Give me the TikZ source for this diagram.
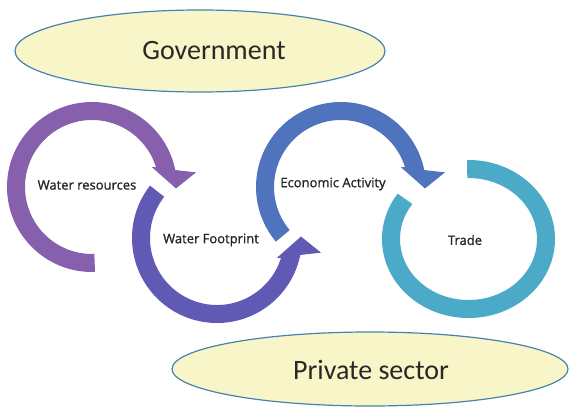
\documentclass[tikz,border=0pt]{standalone}
\usepackage{fontspec}
\setmainfont{Carlito}
\newfontfamily\labelfont[FakeBold=1]{Open Sans}
\usetikzlibrary{shapes.geometric}
\definecolor{arcA}{RGB}{134,96,172}
\definecolor{arcB}{RGB}{96,90,180}
\definecolor{arcC}{RGB}{80,115,190}
\definecolor{arcD}{RGB}{75,170,200}
\definecolor{ellfill}{RGB}{248,246,200}
\definecolor{elldraw}{RGB}{70,130,175}
\definecolor{txt}{RGB}{40,40,40}
\definecolor{smalltxt}{RGB}{35,35,35}
\begin{document}
\begin{tikzpicture}[x=1pt,y=1pt,
  bigoval/.style={ellipse, draw=elldraw, fill=ellfill, line width=1.2pt, inner sep=0pt},
  bigtext/.style={font=\fontsize{28}{32}\selectfont, text=txt, inner sep=0pt},
  smalltext/.style={font=\labelfont\fontsize{13}{15}\selectfont, text=smalltxt, inner sep=0pt}
]
\useasboundingbox (0,0) rectangle (570,408);

% top ellipse
\node[bigoval, minimum width=370pt, minimum height=82pt] (gov) at (200,357) {};
\node[bigtext] (govtext) at (214,357) {Government};

% bottom ellipse
\node[bigoval, minimum width=396pt, minimum height=74pt] (priv) at (370,39) {};
\node[bigtext] (privtext) at (371,38) {Private sector};

% arc 1: Water resources
\begin{scope}[shift={(92,221)}]
\fill[arcA] (272:85) arc[start angle=272, end angle=11.5, radius=85]
  -- (8:105) -- (-1:84) -- (18.5:63) -- (17.2:67)
  arc[start angle=17.2, end angle=272, radius=67] -- cycle;
\end{scope}

% arc 2: Water Footprint
\begin{scope}[shift={(217,170)}]
\fill[arcB] (142:85) arc[start angle=142, end angle=348.5, radius=85]
  -- (352:105) -- (361:84) -- (341.5:63) -- (342.8:67)
  arc[start angle=342.8, end angle=142, radius=67] -- cycle;
\end{scope}

% arc 3: Economic Activity
\begin{scope}[shift={(341,221)}]
\fill[arcC] (220:85) arc[start angle=220, end angle=11.5, radius=85]
  -- (8:105) -- (-1:84) -- (18.5:63) -- (17.2:67)
  arc[start angle=17.2, end angle=220, radius=67] -- cycle;
\end{scope}

% ring 4: Trade
\begin{scope}[shift={(468.5,169)}]
\fill[arcD] (91:86.5 and 79) arc[start angle=91, end angle=-215, x radius=86.5, y radius=79]
  -- (-215:68.5 and 61)
  arc[start angle=-215, end angle=91, x radius=68.5, y radius=61] -- cycle;
\end{scope}

\node[smalltext] (wr) at (87,223) {Water resources};
\node[smalltext] (wf) at (211,168) {Water Footprint};
\node[smalltext] (ea) at (333,224) {Economic Activity};
\node[smalltext] (tr) at (465,168) {Trade};
\end{tikzpicture}
\end{document}
